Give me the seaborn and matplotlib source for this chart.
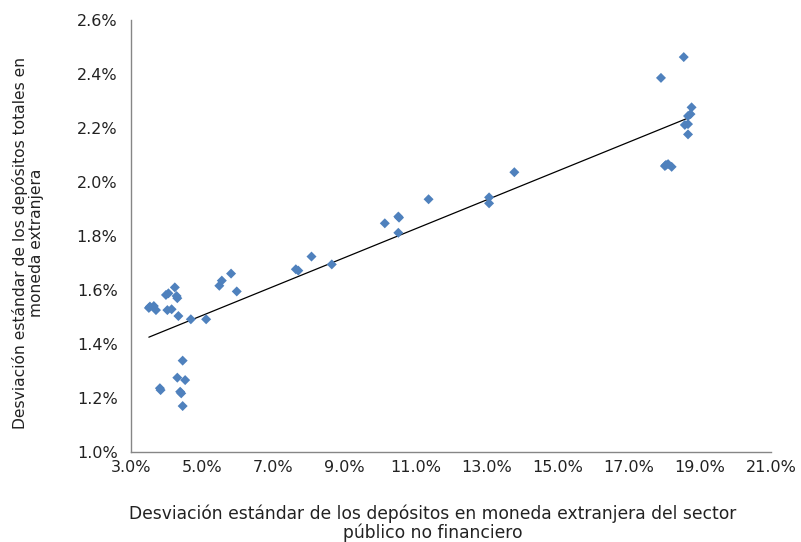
import numpy as np
import pandas as pd
import matplotlib
matplotlib.use("Agg")
import matplotlib.pyplot as plt
import seaborn as sns
from matplotlib.ticker import FuncFormatter

# Data (percent)
x_vals = [3.51, 3.54, 3.65, 3.71, 3.99, 4.06, 4.24, 4.29, 4.31, 4.03, 4.15, 4.34,
          4.69, 5.12, 5.49, 5.56, 5.82, 5.98,
          4.46, 4.31, 4.53, 3.82, 3.84, 4.39, 4.42, 4.46,
          7.64, 7.71, 8.08, 8.65, 10.14, 10.52, 10.54, 10.52, 11.37, 13.07, 13.07, 13.78,
          17.90, 18.54, 18.76, 18.73, 18.66, 18.57, 18.66, 18.66, 18.04, 18.10, 18.20, 18.01]
y_vals = [1.533, 1.538, 1.540, 1.525, 1.581, 1.587, 1.609, 1.577, 1.569, 1.525, 1.528, 1.503,
          1.491, 1.491, 1.615, 1.634, 1.660, 1.594,
          1.338, 1.275, 1.266, 1.236, 1.229, 1.223, 1.217, 1.170,
          1.676, 1.671, 1.723, 1.694, 1.846, 1.871, 1.867, 1.811, 1.935, 1.942, 1.920, 2.035,
          2.384, 2.461, 2.275, 2.250, 2.243, 2.210, 2.213, 2.175, 2.062, 2.065, 2.055, 2.058]

x_ticks = [3, 5, 7, 9, 11, 13, 15, 17, 19, 21]
y_ticks = [1.0, 1.2, 1.4, 1.6, 1.8, 2.0, 2.2, 2.4, 2.6]

x_label = "Desviación estándar de los depósitos en moneda extranjera del sector\npúblico no financiero"
y_label = "Desviación estándar de los depósitos totales en\nmoneda extranjera"

df = pd.DataFrame({"x": x_vals, "y": y_vals})

sns.set_theme(style="white")
plt.rcParams['font.family'] = ['DejaVu Sans']

W, H = 801, 542
fig = plt.figure(figsize=(W / 100, H / 100), dpi=100)
ax = fig.add_axes([130.7 / W, 1 - 452 / H, (771.3 - 130.7) / W, (452 - 19.5) / H])

sns.regplot(data=df, x="x", y="y", ax=ax, ci=None, scatter=False, truncate=True,
            line_kws=dict(color="black", linewidth=0.9))
sns.scatterplot(data=df, x="x", y="y", ax=ax, marker="D", s=26, color="#4F81BD",
                edgecolor="none", linewidth=0, zorder=3)

ax.set_xlim(3, 21)
ax.set_ylim(1.0, 2.6)
ax.set_xticks(x_ticks)
ax.set_yticks(y_ticks)
ax.xaxis.set_major_formatter(FuncFormatter(lambda v, p: f"{v:.1f}%"))
ax.yaxis.set_major_formatter(FuncFormatter(lambda v, p: f"{v:.1f}%"))

for s in ["top", "right"]:
    ax.spines[s].set_visible(False)
for s in ["left", "bottom"]:
    ax.spines[s].set_color("#868686")
    ax.spines[s].set_linewidth(1.0)

ax.tick_params(axis="both", which="major", direction="out", length=3.5, width=1,
               color="#868686", labelsize=11.5, labelcolor="#222222")
ax.tick_params(axis="y", pad=6)
ax.tick_params(axis="x", pad=2)

ax.set_xlabel("")
ax.set_ylabel("")
ax.grid(False)

fig.text(433 / W, 1 - 523 / H, x_label, ha="center", va="center", fontsize=12.3,
         color="#222222", linespacing=1.0)
fig.text(28 / W, 1 - 243 / H, y_label, ha="center", va="center", rotation=90,
         fontsize=11.2, color="#222222", linespacing=1.15)

fig.savefig("out.png", dpi=100)
